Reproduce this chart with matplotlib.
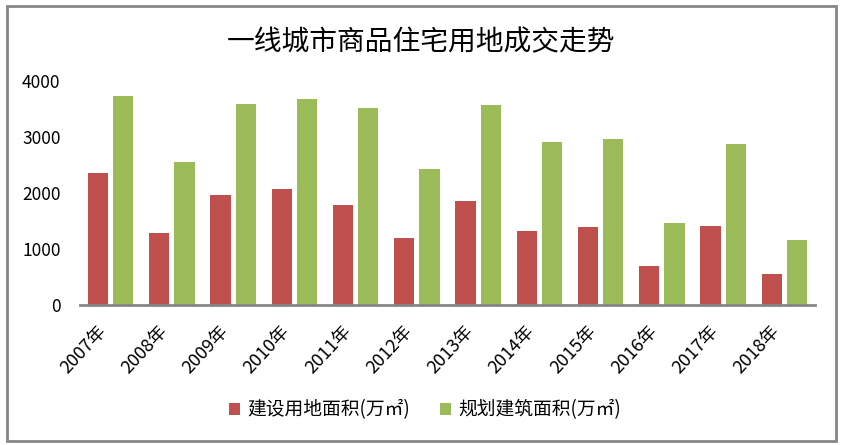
import matplotlib
matplotlib.use('Agg')
import matplotlib.pyplot as plt
from matplotlib.patches import Rectangle
import numpy as np

plt.rcParams['font.family'] = ['Noto Sans CJK SC', 'DejaVu Sans']

years = ['2007年', '2008年', '2009年', '2010年', '2011年', '2012年',
         '2013年', '2014年', '2015年', '2016年', '2017年', '2018年']
land_area = [2357, 1286, 1964, 2071, 1786, 1196, 1857, 1321, 1393, 696, 1411, 554]
build_area = [3732, 2554, 3589, 3679, 3518, 2429, 3571, 2911, 2964, 1464, 2875, 1161]
series_names = ['建设用地面积(万㎡)', '规划建筑面积(万㎡)']

RED = '#C0504D'
GREEN = '#9BBB59'

fig = plt.figure(figsize=(8.42, 4.45), dpi=100)
ax = fig.add_axes([80 / 842, 1 - 305 / 445, 735 / 842, 224 / 445])

x = np.arange(len(years))
w = 0.33
off = 0.205
ax.bar(x - off, land_area, w, color=RED, label=series_names[0])
ax.bar(x + off, build_area, w, color=GREEN, label=series_names[1])

ax.set_xlim(-0.5, len(years) - 0.5)
ax.set_ylim(0, 4000)
ax.set_yticks([0, 1000, 2000, 3000, 4000])
ax.tick_params(axis='y', length=0, labelsize=12.5, pad=14)
ax.tick_params(axis='x', length=0, pad=4)
ax.set_xticks(x)
ax.set_xticklabels(years, rotation=47, ha='right', va='top',
                   rotation_mode='anchor', fontsize=13)
for lbl in ax.get_xticklabels():
    lbl.set_transform(lbl.get_transform() +
                      matplotlib.transforms.ScaledTranslation(-0.14, -0.12, fig.dpi_scale_trans))

for s in ['top', 'right', 'left']:
    ax.spines[s].set_visible(False)
ax.spines['bottom'].set_color('#868686')
ax.spines['bottom'].set_linewidth(2)

fig.text(421 / 842, 1 - 42 / 445, '一线城市商品住宅用地成交走势',
         ha='center', va='center', fontsize=20)

fig.legend(loc='center', bbox_to_anchor=(425 / 842, 1 - 410 / 445), ncol=2,
           frameon=False, fontsize=13.5, handlelength=0.6, handleheight=0.6,
           handletextpad=0.4, columnspacing=1.6)

fig.patches.append(Rectangle((7 / 842, 1 - 441 / 445), 829 / 842, 435 / 445,
                             transform=fig.transFigure, fill=False,
                             edgecolor='#868686', linewidth=2))

fig.savefig('out.png', dpi=100, facecolor='white')
